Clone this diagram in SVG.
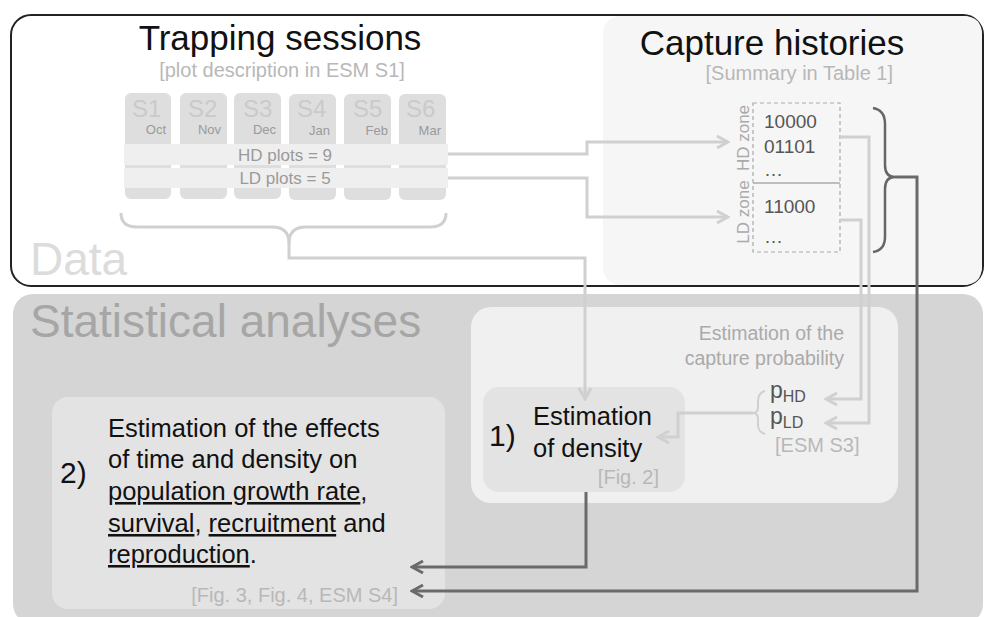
<svg xmlns="http://www.w3.org/2000/svg" width="984" height="617" viewBox="0 0 984 617">
<style>
text{font-family:"Liberation Sans",Arial,sans-serif}
.lt{fill:none;stroke:#d0d0d0;stroke-width:3}
.dk{fill:none;stroke:#6a6a6a;stroke-width:3}
.ref{fill:#b8b8b8;font-size:20px}
.sess{fill:#dedede}
.sl{fill:#cacaca;font-size:24px}
.mo{fill:#9a9a9a;font-size:13px;text-anchor:end}
.dig{fill:#555;font-size:19px}
.big{fill:#111;font-size:25.5px}
.u{text-decoration:underline}
</style>
<defs>
<marker id="al" markerUnits="userSpaceOnUse" markerWidth="16" markerHeight="16" viewBox="0 0 16 16" refX="14" refY="8" orient="auto">
<path d="M3,2 L14,8 L3,14" fill="none" stroke="#d0d0d0" stroke-width="3"/>
</marker>
<marker id="ad" markerUnits="userSpaceOnUse" markerWidth="16" markerHeight="16" viewBox="0 0 16 16" refX="14" refY="8" orient="auto">
<path d="M3,2 L14,8 L3,14" fill="none" stroke="#6a6a6a" stroke-width="3"/>
</marker>
</defs>

<g id="stats-panel">
<rect x="13" y="294" width="970" height="330" rx="20" fill="#d4d5d4"/>
<text x="30" y="337" font-size="46" fill="#a6a6a6">Statistical analyses</text>
</g>

<g id="data-panel">
<rect x="11" y="15" width="972" height="271" rx="20" fill="#fff" stroke="#222" stroke-width="2"/>
<path d="M623,16 L963,16 Q982,16 982,35 L982,266 Q982,285 963,285 L623,285 Q603,285 603,265 L603,36 Q603,16 623,16 Z" fill="#f6f6f6"/>
<text x="30" y="275" font-size="46" fill="#dcdcdc">Data</text>
</g>

<g id="trapping-sessions">
<text x="280" y="50" font-size="35" fill="#111" text-anchor="middle">Trapping sessions</text>
<text x="282" y="77" class="ref" text-anchor="middle">[plot description in ESM S1]</text>
<rect class="sess" x="125" y="93" width="46" height="106" rx="6"/>
<rect class="sess" x="180" y="93" width="47" height="106" rx="6"/>
<rect class="sess" x="234" y="93" width="47" height="106" rx="6"/>
<rect class="sess" x="289" y="94" width="47" height="106" rx="6"/>
<rect class="sess" x="344" y="94" width="47" height="106" rx="6"/>
<rect class="sess" x="399" y="94" width="47" height="106" rx="6"/>
<text class="sl" x="132" y="117">S1</text>
<text class="sl" x="188" y="117">S2</text>
<text class="sl" x="243" y="117">S3</text>
<text class="sl" x="297" y="117">S4</text>
<text class="sl" x="353" y="117">S5</text>
<text class="sl" x="406" y="117">S6</text>
<text class="mo" x="166" y="134">Oct</text>
<text class="mo" x="221" y="134">Nov</text>
<text class="mo" x="276" y="134">Dec</text>
<text class="mo" x="330" y="135">Jan</text>
<text class="mo" x="388" y="135">Feb</text>
<text class="mo" x="441" y="135">Mar</text>
<rect x="124" y="144" width="324" height="21" fill="#efefef"/>
<rect x="124" y="168" width="324" height="20" fill="#efefef"/>
<text x="285" y="161" font-size="17" fill="#9a9a9a" text-anchor="middle">HD plots = 9</text>
<text x="285" y="184" font-size="17" fill="#9a9a9a" text-anchor="middle">LD plots = 5</text>
</g>

<g id="capture-histories">
<text x="772" y="55" font-size="35" fill="#111" text-anchor="middle">Capture histories</text>
<text x="893" y="80" class="ref" text-anchor="end">[Summary in Table 1]</text>
<rect x="753" y="103" width="87" height="149" fill="none" stroke="#aaa" stroke-width="1.2" stroke-dasharray="4,3"/>
<line x1="753" y1="183" x2="840" y2="183" stroke="#aaa" stroke-width="1.5"/>
<text class="dig" x="764" y="128">10000</text>
<text class="dig" x="764" y="153">01101</text>
<text class="dig" x="764" y="176">…</text>
<text class="dig" x="764" y="213">11000</text>
<text class="dig" x="764" y="243">…</text>
<text x="0" y="0" font-size="17" fill="#aaa" text-anchor="middle" transform="translate(749,138) rotate(-90)">HD zone</text>
<text x="0" y="0" font-size="17" fill="#aaa" text-anchor="middle" transform="translate(749,212) rotate(-90)">LD zone</text>
</g>

<g id="capture-probability">
<rect x="471" y="307" width="427" height="196" rx="20" fill="#f0f0f0"/>
<text x="844" y="340" font-size="19.5" fill="#aaa" text-anchor="end">Estimation of the</text>
<text x="844" y="365" font-size="19.5" fill="#aaa" text-anchor="end">capture probability</text>
<text x="770" y="398" font-size="23" fill="#555">p<tspan font-size="16" dy="4">HD</tspan></text>
<text x="770" y="424" font-size="23" fill="#555">p<tspan font-size="16" dy="4">LD</tspan></text>
<text x="775" y="452" class="ref">[ESM S3]</text>
<path d="M765,391 Q758,393 758,401 L758,407 Q758,413 753,413 Q758,413 758,419 L758,425 Q758,432 765,434" fill="none" stroke="#d0d0d0" stroke-width="2"/>
</g>

<g id="density">
<rect x="483" y="387" width="202" height="105" rx="16" fill="#e3e3e3"/>
<text x="489" y="446" font-size="30" fill="#111">1)</text>
<text class="big" x="533" y="425">Estimation</text>
<text class="big" x="533" y="457">of density</text>
<text x="659" y="484" class="ref" text-anchor="end">[Fig. 2]</text>
</g>

<g id="effects">
<rect x="52" y="397" width="393" height="212" rx="16" fill="#e3e3e3"/>
<text x="60" y="483" font-size="30" fill="#111">2)</text>
<text class="big" x="108" y="437">Estimation of the effects</text>
<text class="big" x="108" y="468">of time and density on</text>
<text class="big" x="108" y="500"><tspan class="u">population growth rate</tspan>,</text>
<text class="big" x="108" y="532"><tspan class="u">survival</tspan>, <tspan class="u">recruitment</tspan> and</text>
<text class="big" x="108" y="563"><tspan class="u">reproduction</tspan>.</text>
<text x="398" y="602" class="ref" text-anchor="end">[Fig. 3, Fig. 4, ESM S4]</text>
</g>

<g id="connectors">
<path class="lt" d="M448,154 L587,154 L587,142 L728,142" marker-end="url(#al)"/>
<path class="lt" d="M448,178 L587,178 L587,217 L728,217" marker-end="url(#al)"/>
<path class="lt" d="M121,213 Q121,227 137,227 L272,227 Q289,227 289,243 L289,258 L585,258 L585,399" marker-end="url(#al)"/>
<path class="lt" d="M446,213 Q446,227 430,227 L306,227 Q289,227 289,243"/>
<path class="lt" d="M840,137 L869,137 L869,423 L826,423" marker-end="url(#al)"/>
<path class="lt" d="M840,220 L861,220 L861,399 L826,399" marker-end="url(#al)"/>
<path class="lt" d="M753,413 L678,413 L678,437 L658,437" marker-end="url(#al)"/>
<path d="M873,108 Q885,110 885,124 L885,165 Q885,177 895,177 Q885,177 885,189 L885,237 Q885,250 873,252" fill="none" stroke="#666" stroke-width="2.5"/>
<path class="dk" d="M895,177 L917,177 L917,591 L412,591" marker-end="url(#ad)"/>
<path class="dk" d="M586,492 L586,567 L412,567" marker-end="url(#ad)"/>
</g>
</svg>
